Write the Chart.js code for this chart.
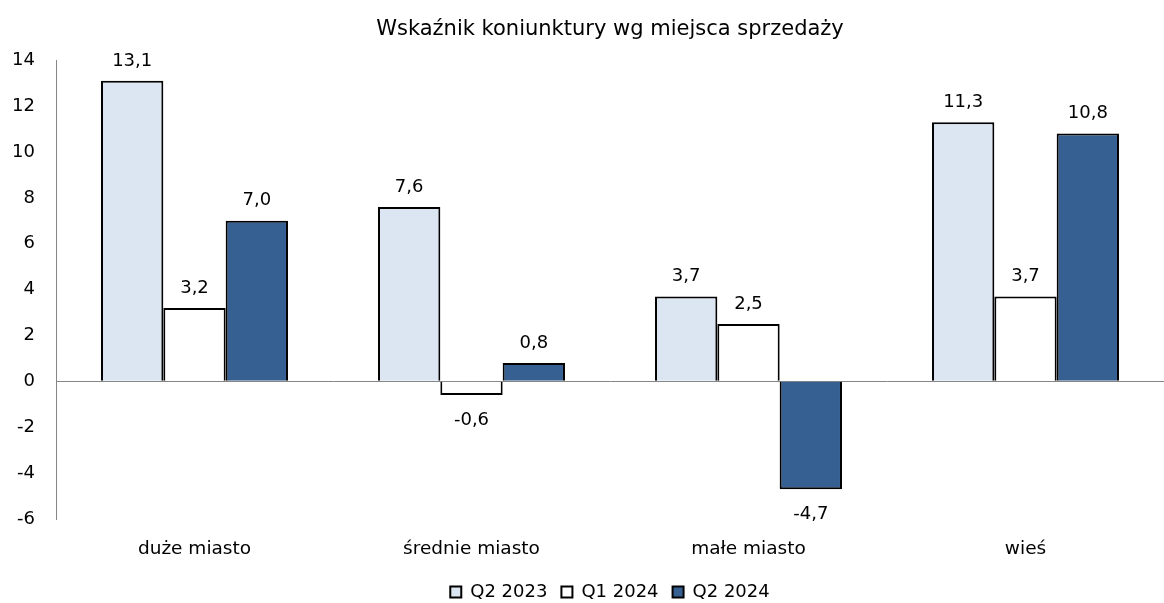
<!DOCTYPE html>
<html>
<head>
<meta charset="utf-8">
<script src="https://cdn.jsdelivr.net/npm/chart.js@4/dist/chart.umd.min.js"></script>
<style>
  html, body { margin: 0; padding: 0; background: #fff; }
  #wrap { width: 1164px; height: 603px; }
</style>
</head>
<body>
<div id="wrap"><canvas id="chartKoniunktura"></canvas></div>
<script>
// dane
var kategorie = ['duże miasto', 'średnie miasto', 'małe miasto', 'wieś'];
var q2_2023 = [13.1, 7.6, 3.7, 11.3];
var q1_2024 = [3.2, -0.6, 2.5, 3.7];
var q2_2024 = [7.0, 0.8, -4.7, 10.8];
var serie = ['Q2 2023', 'Q1 2024', 'Q2 2024'];

var FONT = 'DejaVu Sans';

// etykiety nad/pod słupkami
var etykiety = {
    id: 'etykiety',
    afterDatasetsDraw: function(chart){
        var ctx = chart.ctx;
        ctx.save();
        ctx.font = '18px "' + FONT + '"';
        ctx.fillStyle = '#000';
        ctx.textAlign = 'center';
        ctx.textBaseline = 'middle';
        chart.data.datasets.forEach(function(ds, i){
            chart.getDatasetMeta(i).data.forEach(function(bar, j){
                var v = ds.data[j];
                var txt = v.toFixed(1).replace('.', ',');
                var y = v >= 0 ? bar.y - 20 : bar.y + 25;
                ctx.fillText(txt, bar.x, y);
            });
        });
        ctx.restore();
    }
};

var ctx = document.getElementById('chartKoniunktura').getContext('2d');
var chart = new Chart(ctx, {
    type: 'bar',
    data: {
        labels: kategorie,
        datasets: [
            { label: serie[0], data: q2_2023, backgroundColor: '#dce6f2', borderColor: '#000', borderWidth: 2 },
            { label: serie[1], data: q1_2024, backgroundColor: '#ffffff', borderColor: '#000', borderWidth: 2 },
            { label: serie[2], data: q2_2024, backgroundColor: '#376092', borderColor: '#000', borderWidth: 2 }
        ]
    },
    options: {
        responsive: true,
        maintainAspectRatio: false,
        animation: false,
        categoryPercentage: 0.675,
        barPercentage: 1,
        layout: { padding: { left: 0, right: 0, top: 0, bottom: -8 } },
        plugins: {
            title: {
                display: true,
                text: 'Wskaźnik koniunktury wg miejsca sprzedaży',
                fullSize: false,
                color: '#000',
                font: { family: FONT, size: 21, weight: 'normal' },
                padding: { top: 17, bottom: 18 }
            },
            legend: {
                position: 'bottom',
                fullSize: false,
                labels: {
                    color: '#000',
                    font: { family: FONT, size: 18 },
                    boxWidth: 11,
                    boxHeight: 11,
                    padding: 14
                }
            },
            tooltip: { enabled: false }
        },
        scales: {
            x: {
                afterFit: function(scale){ scale.height = 50; },
                grid: { display: false, drawTicks: false },
                border: { display: false },
                ticks: { color: '#000', font: { family: FONT, size: 18.5 }, padding: 19 }
            },
            y: {
                min: -6,
                max: 14,
                afterFit: function(scale){ scale.width = 56; },
                grid: {
                    drawTicks: false,
                    color: function(c){ return c.tick && c.tick.value === 0 ? '#868686' : 'rgba(0,0,0,0)'; }
                },
                border: { display: true, color: '#868686' },
                ticks: { stepSize: 2, color: '#000', font: { family: FONT, size: 18 }, padding: 21 }
            }
        }
    },
    plugins: [etykiety]
});
</script>
</body>
</html>
